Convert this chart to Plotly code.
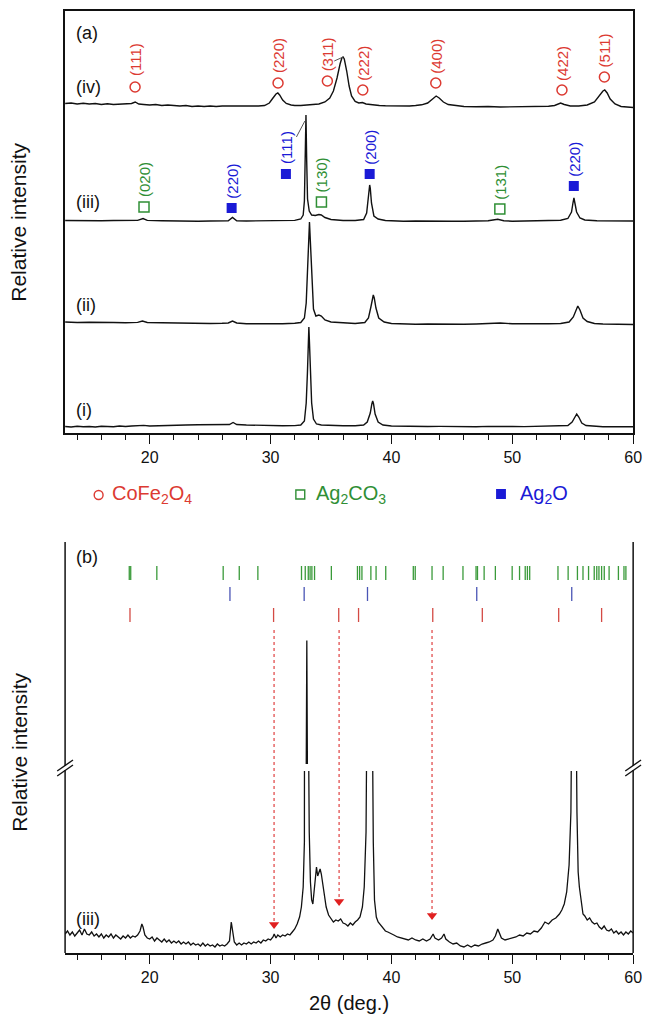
import plotly.graph_objects as go

W, H = 653, 1019
FONT = "Liberation Sans, Arial, sans-serif"
RED, GREEN, BLUE = "#dc3a32", "#2f8f35", "#1a1ad6"

# ---------------- panel (a) data: four stacked patterns ----------------
theta_i = [13, 13.5, 14, 14.5, 15, 15.5, 16, 16.5, 17, 17.5, 18, 18.5, 19, 19.5, 20, 21, 22, 23, 24, 25, 26, 26.6, 26.9, 27.2,
           28, 29, 30, 31, 32, 32.5, 32.8, 32.95, 33.05, 33.12, 33.17, 33.22, 33.3, 33.4, 33.55, 33.8, 34.2, 35, 36, 37,
           37.7, 38.0, 38.25, 38.38, 38.45, 38.52, 38.65, 38.9, 39.3, 40, 41, 42, 43, 44, 45, 46, 47, 48, 49, 50, 51, 52,
           53, 54, 54.6, 54.95, 55.15, 55.33, 55.5, 55.75, 56.1, 56.8, 57.5, 58, 59, 60]
int_i = [1.5, 1, 1.8, 1.2, 1.5, 1, 1.8, 1.4, 1.2, 2, 1.5, 2, 2.2, 2.6, 2, 2.5, 2.8, 3, 3.2, 3.5, 3.2, 3.5, 5.5, 3.5,
         3, 2.6, 2.4, 2.3, 2.4, 3, 7, 25, 55, 85, 101, 85, 55, 25, 9, 4, 3, 2.5, 2.2, 2.2,
         3, 6, 15, 24, 27, 24, 14, 6, 3, 2, 1.6, 1.8, 1.5, 1.6, 1.4, 1.5, 1.3, 1.6, 1.8, 1.5, 1.4, 1.6,
         1.5, 1.8, 2.5, 6, 11, 14, 11, 5, 2.5, 1.5, 1.2, 1.4, 1, 1.2]

theta_ii = [13, 14, 15, 16, 17, 18, 19, 19.4, 19.8, 21, 22, 23, 24, 25, 26, 26.5, 26.85, 27.2, 28, 29, 30, 31, 32, 32.5,
            32.8, 32.95, 33.05, 33.15, 33.22, 33.3, 33.4, 33.55, 33.75, 34.0, 34.2, 34.5, 35, 36, 37, 37.8, 38.1, 38.3,
            38.42, 38.5, 38.58, 38.72, 38.95, 39.4, 40, 41, 42, 43, 44, 45, 46, 47, 48, 49, 50, 51, 52, 53, 54, 54.7,
            55.05, 55.25, 55.42, 55.6, 55.85, 56.2, 56.8, 57.5, 58, 59, 60]
int_ii = [1, 0.5, 0.8, 0.3, 0.5, 0.2, 0.6, 2, 0.5, 0.3, 0, -0.3, 0, -0.5, -0.3, 0, 2, 0, -0.8, -1, -1, -0.8, -0.3, 0.5,
          5, 20, 50, 85, 101, 80, 45, 14, 7, 8, 7, 3, 1, 0, -0.5, 0.5, 5, 16,
          25, 28, 25, 15, 5, 1, -0.5, -1, -1.2, -1, -1.3, -1.1, -1.3, -1, -0.6, 0, -0.8, -1, -0.8, -0.8, -0.5, 1,
          6, 13, 17, 13, 5, 1.5, -0.5, -1, -1.2, -1.5, -1.5]

theta_iii = [13, 14, 15, 16, 17, 18, 19, 19.45, 19.8, 21, 22, 23, 24, 25, 26, 26.5, 26.85, 27.2, 28, 29, 30, 31, 32,
             32.5, 32.7, 32.8, 32.87, 32.93, 32.99, 33.06, 33.2, 33.4, 33.7, 34.0, 34.2, 34.5, 35, 36, 37, 37.7, 37.95,
             38.08, 38.16, 38.2, 38.25, 38.35, 38.55, 38.9, 39.5, 40, 41, 42, 43, 44, 45, 46, 47, 48, 48.8, 49.3, 50,
             51, 52, 53, 54, 54.6, 54.9, 55.02, 55.1, 55.18, 55.32, 55.6, 56, 57, 58, 59, 60]
int_iii = [0.5, 0.2, 0.6, 0.3, 0.5, 0.4, 0.6, 2.5, 0.6, 0.3, 0, 0.2, -0.2, 0, 0, 0.3, 3.5, 0.3, 0, 0, 0, 0.2, 0.6,
           2, 6, 20, 60, 106, 60, 22, 10, 6, 5.5, 6.5, 6, 3.5, 1.5, 0.5, 0.5, 1.5, 8,
           22, 34, 36, 33, 18, 5, 2, 0.5, 0, -0.3, 0, -0.3, 0, -0.2, -0.3, 0, 0.3, 1.8, 0.3, -0.2,
           0, 0, 0.3, 0.8, 2.5, 9, 18, 23, 18, 9, 3, 1, 0.3, 0, 0, 0]

theta_iv = [13, 13.5, 14, 14.5, 15, 15.5, 16, 16.5, 17, 17.5, 18, 18.5, 18.8, 19.1, 19.5, 20, 20.5, 21, 21.5, 22, 22.5,
            23, 23.5, 24, 24.5, 25, 25.5, 26, 26.5, 27, 27.5, 28, 28.5, 29, 29.5, 29.9, 30.2, 30.45, 30.6, 30.75, 31.0,
            31.3, 31.7, 32, 32.5, 33, 33.5, 34, 34.5, 34.9, 35.2, 35.5, 35.75, 35.9, 36.0, 36.1, 36.3, 36.5, 36.7, 37.0,
            37.3, 37.6, 37.9, 38.5, 39, 39.5, 40, 40.5, 41, 41.5, 42, 42.5, 43.0, 43.4, 43.7, 43.95, 44.3, 44.7, 45.2,
            46, 47, 48, 49, 50, 51, 52, 53, 53.5, 54.0, 54.3, 54.8, 55.5, 56.2, 56.8, 57.2, 57.5, 57.65, 57.85, 58.1,
            58.5, 59, 59.5, 60]
int_iv = [2.5, 3, 2, 2.8, 2, 2.5, 1.5, 2.2, 1.5, 1.8, 1.5, 2.5, 4, 2, 1.5, 1, 1.5, 0.5, 1, 0.5, 0,
          0.5, -0.5, 0, -0.5, 0, -0.5, 0, 0, -0.5, 0, -0.3, 0, 0, 0.5, 3, 8, 12, 13, 11, 6,
          2.5, 1, 0.5, 0.5, 0.8, 1, 2, 4, 8, 15, 28, 42, 48, 49, 47, 35, 20, 10, 4.5,
          3, 3.5, 2, 1, 0.5, 0.2, 0, 0.3, 0, 0, 0.5, 1.2, 3, 7, 10, 8, 4, 1.5, 0.5,
          -0.5, -0.8, -0.5, -1, -0.8, -1, -0.5, -0.3, 0.5, 3, 1.5, 0, 0, 1, 4, 10, 15, 16, 13, 7,
          2, -0.5, -1, -1.5]

curves_a = [("(i)", theta_i, int_i), ("(ii)", theta_ii, int_ii), ("(iii)", theta_iii, int_iii), ("(iv)", theta_iv, int_iv)]
offsets_a = [5, 110, 212, 327]

# peak labels, panel (a)
cfo_hkl = ["(111)", "(220)", "(311)", "(222)", "(400)", "(422)", "(511)"]
cfo_theta = [18.79, 30.62, 34.70, 37.63, 43.67, 54.11, 57.62]
cfo_h = [346, 350, 352, 343, 350, 343, 356]
ac_hkl = ["(020)", "(130)", "(131)"]
ac_theta = [19.53, 34.21, 48.97]
ac_h = [226, 231, 224]
ao_hkl = ["(220)", "(111)", "(200)", "(220)"]
ao_theta = [26.78, 31.27, 38.20, 55.09]
ao_h = [225, 259, 259, 247]

# ---------------- panel (b) data: pattern (iii), broken axis ----------------
theta_b = [13.0, 13.2, 13.4, 13.6, 13.8, 14.0, 14.2, 14.4, 14.6, 14.8, 15.0, 15.2, 15.4, 15.6, 15.8, 16.0, 16.2, 16.4,
           16.6, 16.8, 17.0, 17.2, 17.4, 17.6, 17.8, 18.0, 18.2, 18.4, 18.6, 18.8, 19.0, 19.2, 19.35, 19.45, 19.6, 19.8,
           20.0, 20.2, 20.4, 20.6, 20.8, 21.0, 21.2, 21.4, 21.6, 21.8, 22.0, 22.2, 22.4, 22.6, 22.8, 23.0, 23.2, 23.4,
           23.6, 23.8, 24.0, 24.2, 24.4, 24.6, 24.8, 25.0, 25.2, 25.4, 25.6, 25.8, 26.0, 26.2, 26.4, 26.6, 26.75, 26.85,
           27.0, 27.2, 27.4, 27.6, 27.8, 28.0, 28.2, 28.4, 28.6, 28.8, 29.0, 29.2, 29.4, 29.6, 29.8, 30.0, 30.2, 30.3,
           30.45, 30.6, 30.8, 31.0, 31.2, 31.4, 31.6, 31.8, 32.0, 32.2, 32.4, 32.55, 32.7, 32.8, 32.88, 32.95, 33.0,
           33.05, 33.12, 33.2, 33.3, 33.4, 33.5, 33.6, 33.7, 33.8, 33.9, 34.0, 34.1, 34.2, 34.3, 34.45, 34.6, 34.8,
           35.0, 35.2, 35.4, 35.6, 35.8, 36.0, 36.2, 36.4, 36.6, 36.8, 37.0, 37.2, 37.4, 37.6, 37.75, 37.9, 38.0, 38.1,
           38.2, 38.3, 38.4, 38.5, 38.6, 38.75, 38.9, 39.1, 39.3, 39.5, 39.7, 39.9, 40.2, 40.5, 40.8, 41.1, 41.4, 41.7,
           42.0, 42.3, 42.6, 42.9, 43.2, 43.45, 43.6, 43.9, 44.15, 44.35, 44.5, 44.8, 45.1, 45.4, 45.7, 46.0, 46.3,
           46.6, 46.9, 47.2, 47.5, 47.8, 48.1, 48.4, 48.6, 48.8, 48.95, 49.1, 49.4, 49.7, 50.0, 50.3, 50.6, 50.9, 51.2,
           51.5, 51.8, 52.1, 52.4, 52.7, 53.0, 53.3, 53.6, 53.9, 54.1, 54.3, 54.5, 54.7, 54.85, 54.95, 55.05, 55.1,
           55.15, 55.25, 55.35, 55.45, 55.55, 55.7, 55.85, 56.0, 56.2, 56.4, 56.6, 56.8, 57.0, 57.2, 57.4, 57.6, 57.8,
           58.0, 58.2, 58.4, 58.6, 58.8, 59.0, 59.2, 59.4, 59.6, 59.8, 60.0]
int_b = [28, 31, 27, 30, 26, 29, 32, 27, 33, 28, 27, 30, 26, 28, 25, 28, 24, 27,
         25, 28, 24, 27, 25, 23, 26, 24, 27, 24, 26, 25, 27, 31, 38, 35, 27, 24,
         23, 25, 21, 24, 22, 20, 23, 20, 22, 19, 21, 19, 21, 18, 20, 18, 20, 17,
         19, 17, 18, 16, 19, 16, 18, 16, 17, 15, 18, 16, 17, 16, 18, 21, 40, 33,
         20, 17, 19, 17, 19, 18, 20, 18, 20, 19, 21, 19, 22, 21, 23, 22, 25, 28,
         24, 27, 25, 27, 26, 28, 27, 30, 33, 38, 45, 55, 75, 120, 250, 900, 3000,
         900, 260, 130, 80, 62, 58, 70, 88, 95, 86, 90, 93, 88, 80, 66, 55, 47,
         44, 40, 42, 41, 43, 39, 38, 36, 39, 37, 40, 42, 45, 55, 75, 130, 300, 500,
         600, 500, 280, 120, 62, 45, 40, 37, 34, 31, 30, 29, 27, 25, 24, 23, 22, 24,
         22, 21, 23, 21, 23, 28, 24, 22, 24, 28, 23, 20, 18, 19, 16, 15, 17,
         15, 17, 16, 18, 19, 20, 22, 26, 33, 29, 24, 22, 23, 24, 25, 27, 26, 29,
         28, 31, 30, 34, 40, 38, 42, 44, 48, 52, 58, 70, 97, 150, 300, 500, 520,
         500, 300, 150, 90, 75, 58, 48, 46, 42, 44, 40, 38, 39, 35, 33, 36, 32,
         31, 33, 29, 31, 28, 30, 27, 30, 28, 31, 29]
offset_b = -9

# reference line positions (2theta), panel (b)
ref_ag2co3 = [18.31, 18.43, 20.59, 26.08, 27.41, 28.95, 32.56, 32.87, 33.12, 33.27, 33.42, 33.64, 35.03, 37.19,
              37.37, 37.56, 38.30, 38.73, 39.53, 41.81, 41.97, 43.36, 44.28, 45.92, 47.00, 47.12, 47.67, 48.6,
              49.99, 50.6, 51.07, 51.25, 51.44, 53.78, 54.62, 55.39, 55.85, 56.31, 56.78, 56.99, 57.17, 57.39,
              57.61, 58.01, 58.78, 59.24, 59.40]
ref_ag2o = [26.64, 32.78, 38.02, 47.06, 54.92]
ref_cfo = [18.37, 30.25, 35.64, 37.28, 43.42, 47.52, 53.84, 57.39]
arrow_theta = [30.29, 35.67, 43.36]
arrow_tip = [33, 56, 42]

# ---------------- layout constants (pixels) ----------------
X0, X1 = 66, 642
A_TOP, A_BOT = 11, 433
B_TOP, B_BOT = 542, 953
BRK_LO, BRK_HI = 771, 764
LOW_RANGE = [0, 182]
UP_RANGE = [1000, 4580]


def px(x):
    return x / W


def py(y):
    return 1 - y / H


fig = go.Figure()

# panel (a) curves
for (name, th, val), off in zip(curves_a, offsets_a):
    fig.add_trace(go.Scatter(x=th, y=[v + off for v in val], mode="lines",
                             line=dict(color="#111111", width=1.4), xaxis="x", yaxis="y",
                             showlegend=False, hoverinfo="skip"))

# symbols
fig.add_trace(go.Scatter(x=cfo_theta, y=cfo_h, mode="markers", xaxis="x", yaxis="y", showlegend=False,
                         marker=dict(symbol="circle-open", size=10, color=RED, line=dict(width=1.5, color=RED))))
fig.add_trace(go.Scatter(x=ac_theta, y=ac_h, mode="markers", xaxis="x", yaxis="y", showlegend=False,
                         marker=dict(symbol="square-open", size=10, color=GREEN, line=dict(width=1.5, color=GREEN))))
fig.add_trace(go.Scatter(x=ao_theta, y=ao_h, mode="markers", xaxis="x", yaxis="y", showlegend=False,
                         marker=dict(symbol="square", size=10, color=BLUE, line=dict(width=0))))

annotations = []
for hkl_list, ths, hs, col in [(cfo_hkl, cfo_theta, cfo_h, RED), (ac_hkl, ac_theta, ac_h, GREEN),
                               (ao_hkl, ao_theta, ao_h, BLUE)]:
    for hkl, t, h in zip(hkl_list, ths, hs):
        annotations.append(dict(x=t, y=h, xref="x", yref="y", text=hkl, showarrow=False, textangle=-90,
                                xanchor="center", yanchor="middle", yshift=27,
                                font=dict(family=FONT, size=15, color=col)))

# leader lines to the tall peaks
shapes = [
    dict(type="line", xref="x", yref="y", x0=35.27, y0=372, x1=36.0, y1=376, line=dict(color="#555555", width=1)),
    dict(type="line", xref="x", yref="y", x0=32.14, y0=296, x1=32.84, y1=312, line=dict(color="#555555", width=1)),
]

# panel labels
for txt, yy in [("(a)", 33), ("(iv)", 87), ("(iii)", 202), ("(ii)", 305), ("(i)", 410), ("(b)", 557), ("(iii)", 919)]:
    annotations.append(dict(x=px(75), y=py(yy), xref="paper", yref="paper", text=txt, showarrow=False,
                            xanchor="left", yanchor="middle", font=dict(family=FONT, size=18, color="#111111")))

# y titles
for yy in [222, 752]:
    annotations.append(dict(x=px(19), y=py(yy), xref="paper", yref="paper", text="Relative intensity",
                            showarrow=False, textangle=-90, xanchor="center", yanchor="middle",
                            font=dict(family=FONT, size=21, color="#111111")))
annotations.append(dict(x=px((X0 + X1) / 2), y=py(1003), xref="paper", yref="paper", text="2θ (deg.)",
                        showarrow=False, xanchor="center", yanchor="middle",
                        font=dict(family=FONT, size=20, color="#111111")))

# phase legend row
shapes.append(dict(type="circle", xref="paper", yref="paper", x0=px(95.5), x1=px(104.5), y0=py(499.5), y1=py(490.5),
                   line=dict(color=RED, width=1.4)))
shapes.append(dict(type="rect", xref="paper", yref="paper", x0=px(300), x1=px(309), y0=py(499), y1=py(490),
                   line=dict(color=GREEN, width=1.4)))
shapes.append(dict(type="rect", xref="paper", yref="paper", x0=px(503), x1=px(513), y0=py(499), y1=py(489),
                   fillcolor=BLUE, line=dict(color=BLUE, width=0)))
for txt, xx, col in [("CoFe<sub>2</sub>O<sub>4</sub>", 112, RED), ("Ag<sub>2</sub>CO<sub>3</sub>", 318, GREEN),
                     ("Ag<sub>2</sub>O", 525, BLUE)]:
    annotations.append(dict(x=px(xx), y=py(495), xref="paper", yref="paper", text=txt, showarrow=False,
                            xanchor="left", yanchor="middle", font=dict(family=FONT, size=20, color=col)))

# panel (b) curve on both segments
for yax in ["y3", "y4"]:
    fig.add_trace(go.Scatter(x=theta_b, y=[v + offset_b for v in int_b], mode="lines",
                             line=dict(color="#111111", width=1.3),
                             xaxis="x2", yaxis=yax, showlegend=False, hoverinfo="skip"))

# reference stick rows
for refs, col, (ya, yb) in [(ref_ag2co3, "#3a9a3a", (566, 580)), (ref_ag2o, "#4a55b5", (587, 601)),
                            (ref_cfo, "#d44a44", (608, 622))]:
    for t in refs:
        shapes.append(dict(type="line", xref="x2", yref="paper", x0=t, x1=t, y0=py(yb), y1=py(ya),
                           line=dict(color=col, width=1.3)))


def low_to_paper(v):
    f = (v - LOW_RANGE[0]) / (LOW_RANGE[1] - LOW_RANGE[0])
    return py(B_BOT) + f * (py(BRK_LO) - py(B_BOT))


# dotted arrows
for t, tip in zip(arrow_theta, arrow_tip):
    shapes.append(dict(type="line", xref="x2", yref="paper", x0=t, x1=t, y0=py(630),
                       y1=low_to_paper(tip + offset_b + 6),
                       line=dict(color="#e04040", width=1.2, dash="dot")))
fig.add_trace(go.Scatter(x=arrow_theta, y=[v + offset_b + 4.5 for v in arrow_tip], mode="markers", xaxis="x2",
                         yaxis="y3", showlegend=False, hoverinfo="skip",
                         marker=dict(symbol="triangle-down", size=9, color="#e02020", line=dict(width=0))))

# side frame lines of panel (b)
for xx in [X0, X1]:
    shapes.append(dict(type="line", xref="paper", yref="paper", x0=px(xx), x1=px(xx), y0=py(B_BOT), y1=py(B_TOP),
                       line=dict(color="#111111", width=1.5)))
    # axis-break marks
    shapes.append(dict(type="rect", xref="paper", yref="paper", x0=px(xx - 2), x1=px(xx + 2), y0=py(770),
                       y1=py(766), fillcolor="white", line=dict(width=0)))
    shapes.append(dict(type="line", xref="paper", yref="paper", x0=px(xx - 8), y0=py(771), x1=px(xx + 8),
                       y1=py(760), line=dict(color="#111111", width=1.4)))
    shapes.append(dict(type="line", xref="paper", yref="paper", x0=px(xx - 8), y0=py(776), x1=px(xx + 8),
                       y1=py(765), line=dict(color="#111111", width=1.4)))

tickfont = dict(family=FONT, size=16, color="#111111")
common_x = dict(range=[13, 60], tickmode="linear", tick0=0, dtick=10, showgrid=False, zeroline=False,
                linecolor="#111111", linewidth=1.5, tickcolor="#111111", tickwidth=1.3)
bottom_x = dict(common_x, ticks="outside", ticklen=9, showline=True, tickfont=tickfont,
                minor=dict(dtick=2, tick0=0, ticks="outside", ticklen=5, tickcolor="#111111", tickwidth=1.2))
top_x = dict(common_x, ticks="inside", ticklen=8, showticklabels=False,
             minor=dict(dtick=2, tick0=0, ticks="inside", ticklen=5, tickcolor="#111111", tickwidth=1.2))
no_y = dict(showgrid=False, zeroline=False, showticklabels=False, ticks="")

fig.update_layout(
    width=W, height=H, margin=dict(l=0, r=0, t=0, b=0),
    paper_bgcolor="white", plot_bgcolor="white", showlegend=False,
    xaxis=dict(bottom_x, domain=[px(X0), px(X1)], anchor="y", mirror=True),
    xaxis3=dict(top_x, overlaying="x", side="top", anchor="y", showline=False),
    yaxis=dict(no_y, domain=[py(A_BOT), py(A_TOP)], range=[0, A_BOT - A_TOP], showline=True, mirror=True,
               linecolor="#111111", linewidth=1.5),
    xaxis2=dict(bottom_x, domain=[px(X0), px(X1)], anchor="y3"),
    xaxis4=dict(top_x, overlaying="x2", side="top", anchor="free", position=py(B_TOP), showline=True),
    yaxis3=dict(no_y, domain=[py(B_BOT), py(BRK_LO)], range=LOW_RANGE, anchor="x2", showline=False),
    yaxis4=dict(no_y, domain=[py(BRK_HI), py(B_TOP)], range=UP_RANGE, anchor="x2", showline=False),
    annotations=annotations, shapes=shapes,
)

fig.write_html("out.html")
